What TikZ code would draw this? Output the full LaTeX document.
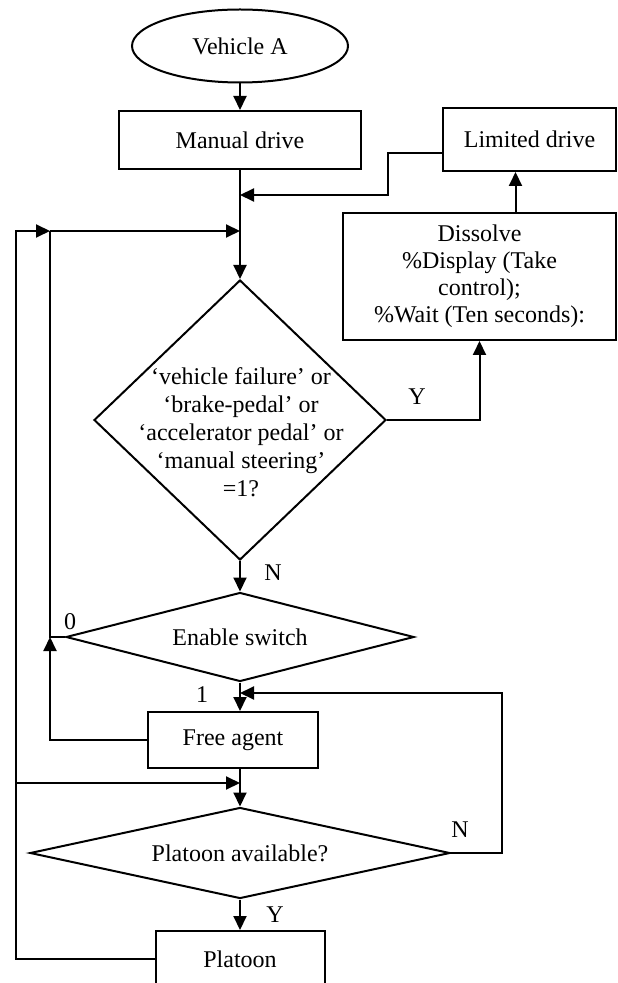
\documentclass[tikz,border=0pt]{standalone}
\usepackage{fontspec}
\setmainfont{Liberation Serif}
\usetikzlibrary{arrows.meta,shapes.geometric}
\tikzset{
  fcbox/.style={draw=black, line width=1pt, align=center, font=\fontsize{12}{13.5}\selectfont,
    inner sep=2pt, fill=white},
  fcterm/.style={fcbox, ellipse},
  fcdec/.style={fcbox, diamond, inner sep=0pt},
  fctext/.style={align=center, font=\fontsize{12}{14}\selectfont, inner sep=0pt},
  fclabel/.style={font=\fontsize{12}{14}\selectfont, inner sep=0pt},
  fcarrow/.style={-{Triangle[length=7pt,width=6.5pt]}, line width=1pt, draw=black},
  fcline/.style={line width=1pt, draw=black}
}

\begin{document}
\begin{tikzpicture}[x=0.5pt, y=-0.5pt]
  \useasboundingbox (0,0) rectangle (617,983);
  \clip (0,0) rectangle (617,983);
  \node[fcterm, minimum width=108pt, minimum height=36.5pt] (ve) at (240,46) {Vehicle A};
  \node[fcbox, minimum width=121pt, minimum height=29pt] (md) at (240,140) {Manual drive};
  \node[fcbox, minimum width=86.5pt, minimum height=31.5pt] (ld) at (529.5,139.5) {Limited drive};
  \node[fcbox, minimum width=136.5pt, minimum height=63.5pt] (dis) at (479.5,276.5) {Dissolve\\\%Display (Take\\control);\\\%Wait (Ten seconds):};
  \node[fcdec, minimum width=146pt, minimum height=140pt] (q1) at (240,420) {};
  \node[fctext] (q1t) at (241,432) {‘vehicle failure’ or\\‘brake-pedal’ or\\‘accelerator pedal’ or\\‘manual steering’\\=1?};
  \node[fcdec, shape aspect=3.9, minimum width=174pt, minimum height=44.5pt] (es) at (240,637) {Enable switch};
  \node[fcbox, minimum width=85pt, minimum height=28pt] (fa) at (233,740) {Free agent};
  \node[fcdec, shape aspect=4.6, minimum width=210pt, minimum height=45.5pt] (pa) at (240,853) {Platoon available?};
  \node[fcbox, minimum width=84.5pt, minimum height=28pt] (pl) at (240,959) {Platoon};
  \node[fclabel] (lbY1) at (417,397) {Y};
  \node[fclabel] (lbN1) at (273,573) {N};
  \node[fclabel] (lb0) at (70,622) {0};
  \node[fclabel] (lb1) at (202,695) {1};
  \node[fclabel] (lbN2) at (460,830) {N};
  \node[fclabel] (lbY2) at (275,915) {Y};
  \coordinate (jtop) at (240,195);
  \coordinate (jloop) at (240,231);
  \coordinate (lin) at (50,231);
  \coordinate (lout) at (16,231);
  \coordinate (jmid) at (240,693);
  \coordinate (jlow) at (240,783);
  \coordinate (ldin) at ([xshift=-7pt]ld.south);
  \draw[fcarrow] (ve) -- (md);
  \draw[fcarrow] (md) -- (q1.north);
  \draw[fcarrow] ([yshift=-6.75pt]ld.west) -- ++(-54,0) |- (jtop);
  \draw[fcarrow] (lin) -- (jloop);
  \draw[fcarrow] (q1.east) -| (dis.south);
  \draw[fcarrow] (ldin |- dis.north) -- (ldin);
  \draw[fcarrow] (q1.south) -- (es.north);
  \draw[fcline] (es.west) -| (lin);
  \draw[fcarrow] (es.south) -- (es.south |- fa.north);
  \draw[fcarrow] (fa.west) -| (es.west -| lin);
  \draw[fcarrow] (pa.east) -- ++(51,0) |- (jmid);
  \draw[fcarrow] (fa.south -| pa.north) -- (pa.north);
  \draw[fcarrow] (jlow -| lout) -- (jlow);
  \draw[fcarrow] (pl.west) -| (lout) -- (lin);
  \draw[fcarrow] (pa.south) -- (pl.north);
\end{tikzpicture}
\end{document}
